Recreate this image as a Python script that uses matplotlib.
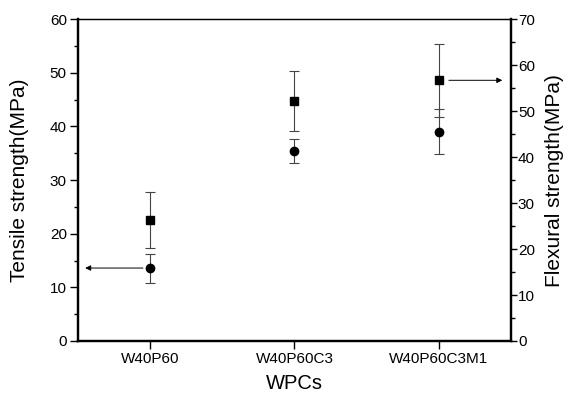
import matplotlib.pyplot as plt
from matplotlib.ticker import MultipleLocator

plt.rcParams['font.family'] = ['Liberation Sans', 'DejaVu Sans']

samples = ['W40P60', 'W40P60C3', 'W40P60C3M1']
tensile = [13.6, 35.4, 39.0]
tensile_err = [2.7, 2.3, 4.2]
flexural = [26.3, 52.2, 56.7]
flexural_err = [6.0, 6.5, 8.0]

x = [1, 2, 3]

fig = plt.figure(figsize=(5.69, 3.99), dpi=100)
ax = fig.add_axes([0.137, 0.1454, 0.761, 0.8066])
ax2 = ax.twinx()

ax.errorbar(x, tensile, yerr=tensile_err, fmt='o', color='black', ms=6,
            ecolor='#444444', elinewidth=0.8, capsize=3.5, capthick=0.8)
ax2.errorbar(x, flexural, yerr=flexural_err, fmt='s', color='black', ms=5.5,
             ecolor='#444444', elinewidth=0.8, capsize=3.5, capthick=0.8)

ax.set_xlim(0.5, 3.5)
ax.set_ylim(0, 60)
ax2.set_ylim(0, 70)
ax.set_xticks(x)
ax.set_xticklabels(samples)
ax.yaxis.set_major_locator(MultipleLocator(10))
ax.yaxis.set_minor_locator(MultipleLocator(5))
ax2.yaxis.set_major_locator(MultipleLocator(10))
ax2.yaxis.set_minor_locator(MultipleLocator(5))

for a in (ax, ax2):
    a.tick_params(which='major', length=5.5, width=1, labelsize=11, direction='out', pad=2.5)
    a.tick_params(which='minor', length=3, width=1, direction='out')
    for s in ('left', 'right', 'bottom'):
        a.spines[s].set_linewidth(1.6)
    a.spines['top'].set_linewidth(0.9)
ax2.tick_params(which='major', length=4, pad=1)

ax.set_xlabel('WPCs', fontsize=14.5, labelpad=6)
ax.set_ylabel('Tensile strength(MPa)', fontsize=15, labelpad=15)
ax2.set_ylabel('Flexural strength(MPa)', fontsize=15, labelpad=7)

# arrows pointing at the matching axis
ax.annotate('', xy=(0.55, tensile[0]), xytext=(0.95, tensile[0]),
            arrowprops=dict(arrowstyle='-|>', color='black', lw=0.7,
                            mutation_scale=8, shrinkA=0, shrinkB=0))
ax2.annotate('', xy=(3.44, flexural[2]), xytext=(3.07, flexural[2]),
             arrowprops=dict(arrowstyle='-|>', color='black', lw=0.7,
                             mutation_scale=8, shrinkA=0, shrinkB=0))

fig.savefig('out.png', dpi=100)
